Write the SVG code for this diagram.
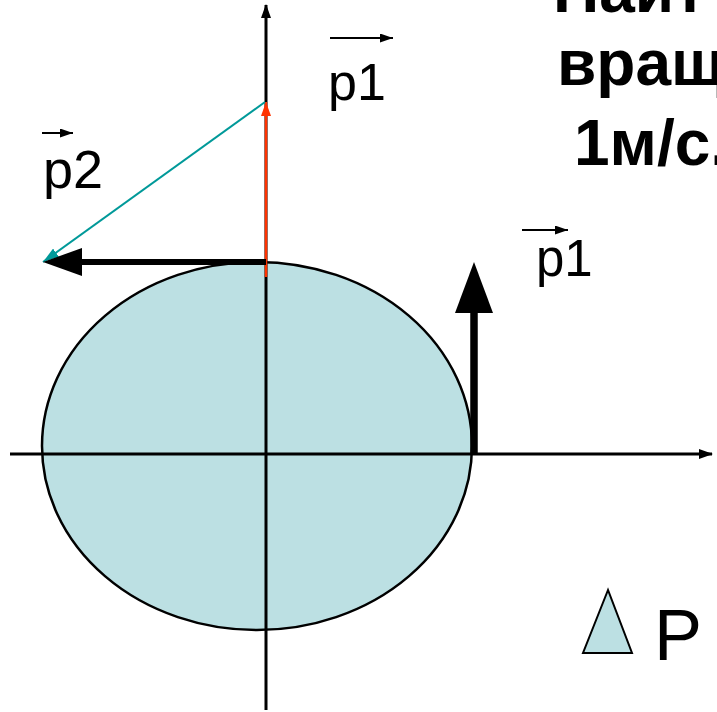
<svg xmlns="http://www.w3.org/2000/svg" width="717" height="712" viewBox="0 0 717 712">
<style>
.lbl{font-family:"Liberation Sans",Arial,sans-serif;fill:#000}
.big{font-family:"Liberation Sans",Arial,sans-serif;font-weight:bold;fill:#000;font-size:64px}
.axis{stroke:#000;stroke-width:3;fill:none}
</style>
<defs>
<marker id="ax" markerWidth="14" markerHeight="10" refX="13" refY="5" orient="auto" markerUnits="userSpaceOnUse">
<path d="M0,0 L14,5 L0,10 Z" fill="#000"/>
</marker>
<marker id="sm" markerWidth="13" markerHeight="9" refX="13" refY="4.5" orient="auto" markerUnits="userSpaceOnUse">
<path d="M0,0 L13,4.5 L0,9 Z" fill="#000"/>
</marker>
<marker id="red" markerWidth="14" markerHeight="10" refX="14" refY="5" orient="auto" markerUnits="userSpaceOnUse">
<path d="M0,0 L14,5 L0,10 Z" fill="#FF3300"/>
</marker>
<marker id="teal" markerWidth="16" markerHeight="10" refX="16" refY="5" orient="auto" markerUnits="userSpaceOnUse">
<path d="M0,0 L16,5 L0,10 Z" fill="#009999"/>
</marker>
</defs>
<g id="title">
<text class="big" x="553" y="12">Найт</text>
<text class="big" x="557" y="85">вращ</text>
<text class="big" x="574" y="165">1м/с.</text>
</g>
<g id="body">
<ellipse cx="257" cy="446" rx="215" ry="184" fill="#BCE0E3" stroke="#000" stroke-width="2.5"/>
</g>
<g id="connectors">
<line class="axis" x1="10" y1="454" x2="712" y2="454" marker-end="url(#ax)"/>
<line class="axis" x1="266" y1="710" x2="266" y2="5" marker-end="url(#ax)"/>
<line x1="266" y1="277" x2="266" y2="102" stroke="#FF3300" stroke-width="2.5" marker-end="url(#red)"/>
<line x1="265" y1="102" x2="43" y2="262" stroke="#009999" stroke-width="2" marker-end="url(#teal)"/>
<line x1="266" y1="262" x2="80" y2="262" stroke="#000" stroke-width="6"/>
<polygon points="43,262 82,248 82,276" fill="#000"/>
<line x1="474" y1="455" x2="474" y2="310" stroke="#000" stroke-width="7.5"/>
<polygon points="474,262 455,313 493,313" fill="#000"/>
</g>
<g id="label-p1-top">
<line x1="330" y1="38" x2="393" y2="38" stroke="#000" stroke-width="2" marker-end="url(#sm)"/>
<text class="lbl" x="328" y="100" font-size="52">p1</text>
</g>
<g id="label-p2">
<line x1="42" y1="133" x2="73" y2="133" stroke="#000" stroke-width="2" marker-end="url(#sm)"/>
<text class="lbl" x="43" y="188" font-size="54">p2</text>
</g>
<g id="label-p1-right">
<line x1="522" y1="230" x2="568" y2="230" stroke="#000" stroke-width="2" marker-end="url(#sm)"/>
<text class="lbl" x="536" y="276" font-size="51">p1</text>
</g>
<g id="legend">
<polygon points="608,590 583,653 632,653" fill="#BCE0E3" stroke="#000" stroke-width="2"/>
<text class="lbl" x="654" y="660" font-size="72">P</text>
</g>
</svg>
